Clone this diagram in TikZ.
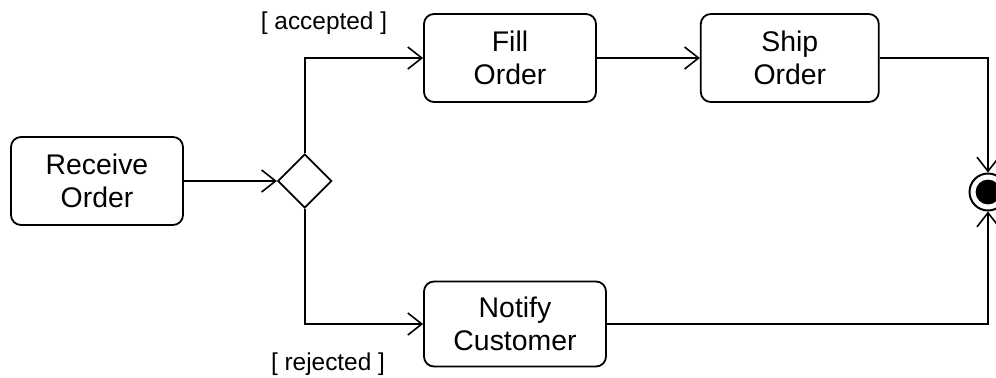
\documentclass[tikz,border=0pt]{standalone}
\usepackage{fontspec}
\setmainfont{Liberation Sans}
\usetikzlibrary{positioning, arrows.meta, shapes.geometric}
\tikzset{
action/.style={
  draw,
  rectangle,
  rounded corners=5pt,
  line width=0.9pt,
  minimum height=44pt,
  minimum width=86pt, align=center,
  font=\fontsize{14.2}{16.3}\selectfont
  },
decision/.style={
  draw,
  diamond,
  line width=0.9pt,
  inner sep=0pt,
  minimum width=27pt, minimum height=27pt
  },
final/.style={
  draw,
  circle,
  line width=1pt,
  inner sep=0pt,
  minimum size=18.5pt,
  path picture={\fill (path picture bounding box.center) circle (6.2pt);}
  },
guard/.style={font=\fontsize{12.2}{14}\selectfont},
line/.style={->, line width=0.8pt, >={Straight Barb[length=7pt,width=11pt]}}
}

\begin{document}
\begin{tikzpicture}[x=0.5pt, y=-0.5pt]
\useasboundingbox (0,0) rectangle (996,377);

\node[action]	(receive)	at (97,181)		{Receive \\ Order};
\node[decision]	(choice)	[right=46.5pt of receive]	{};
\node[action]	(fill)		at (510,58)		{Fill \\ Order};
\node[action, minimum width=89pt]	(ship)	[right=51.5pt of fill]	{Ship \\ Order};
\node[action, minimum width=91pt, minimum height=42.5pt]	(notify)	at (515,324)	{Notify \\ Customer};
\node[final]	(done)		at (988,192)	{};

\node[guard]	(accepted)	at (324,23)		{[ accepted ]};
\node[guard]	(rejected)	at (328,364)	{[ rejected ]};

\draw[line] (receive.east) -- (choice.west);
\draw[line] (choice.north) |- (fill.west);
\draw[line] (choice.south) |- (notify.west);
\draw[line] (fill.east) -- (ship.west);
\draw[line] (ship.east) -| (done.north);
\draw[line] (notify.east) -| (done.south);
\end{tikzpicture}
\end{document}
